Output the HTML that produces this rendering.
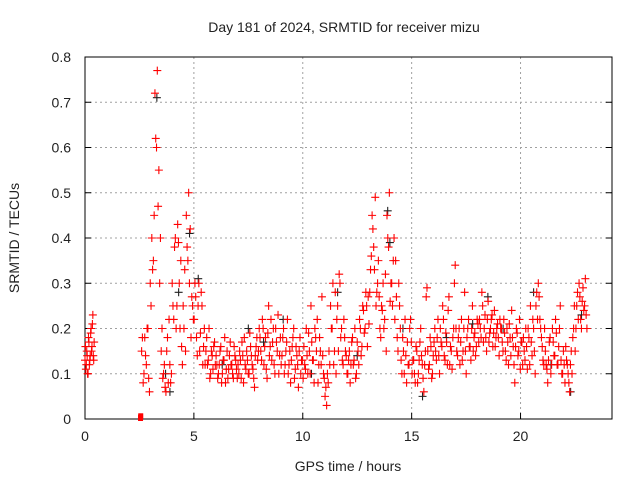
<!DOCTYPE html>
<html><head><meta charset="utf-8"><style>
body{margin:0;background:#fff;width:640px;height:480px;overflow:hidden}
svg text{font-family:"Liberation Sans",sans-serif;font-size:14px;fill:#222}
</style></head><body>
<svg id="c" width="640" height="480">
<text x="344" y="32" text-anchor="middle">Day 181 of 2024, SRMTID for receiver mizu</text>
<text x="348" y="471" text-anchor="middle">GPS time / hours</text>
<text transform="translate(19,238) rotate(-90)" text-anchor="middle">SRMTID / TECUs</text>
<g id="grid"></g><g id="axes"></g><g id="black"></g><g id="red"></g>
</svg>
<script>
const xTicks=[0,5,10,15,20];
const yTicks=[0,0.1,0.2,0.3,0.4,0.5,0.6,0.7,0.8];
const yTickLabels=["0","0.1","0.2","0.3","0.4","0.5","0.6","0.7","0.8"];
const segStarts=[0.0,2.6,0.02,2.636];
const segSteps=[0.04,0.072,0.04,0.072];
const seg0=[0.13,0.11,0.15,0.1,0.18,0.12,0.14,0.2,0.16,0.23,0.13];
const seg1=[0.15,0.08,0.18,0.12,0.2,0.06,
0.25,0.33,0.45,0.62,0.77,0.55,0.4,
0.2,0.1,0.07,0.15,0.08,0.12,0.1,
0.25,0.38,0.2,0.43,0.3,0.35,0.12,
0.2,0.15,0.38,0.5,0.42,0.27,0.22,
0.3,0.18,0.25,0.15,0.28,0.12,0.2,
0.15,0.12,0.2,0.1,0.14,0.16,0.12,
0.12,0.1,0.15,0.08,0.13,0.18,0.11,0.09,0.14,0.12,0.1,0.16,0.13,0.09,
0.1,0.13,0.17,0.08,0.12,0.15,0.1,0.19,0.14,0.11,0.07,0.16,0.13,0.2,
0.15,0.22,0.12,0.18,0.09,0.25,0.16,0.13,0.2,0.1,0.17,0.23,0.14,0.12,
0.18,0.1,0.15,0.22,0.12,0.08,0.16,0.2,0.11,0.14,0.07,0.18,0.13,0.09,
0.12,0.2,0.1,0.15,0.25,0.13,0.08,0.18,0.22,0.12,0.15,0.27,0.1,0.05,
0.03,0.08,0.12,0.2,0.3,0.15,0.1,0.25,0.32,0.18,0.13,0.22,0.15,0.1,
0.13,0.08,0.17,0.12,0.2,0.1,0.15,0.22,0.14,0.25,0.19,0.28,0.16,0.21,
0.33,0.45,0.38,0.49,0.28,0.35,0.2,0.25,0.3,0.22,0.15,0.4,0.5,0.3,
0.25,0.4,0.35,0.18,0.3,0.2,0.1,0.15,0.22,0.08,0.12,0.2,0.17,0.13,
0.1,0.16,0.08,0.13,0.2,0.12,0.06,0.15,0.29,0.11,0.18,0.09,0.14,0.2,
0.13,0.22,0.1,0.17,0.25,0.14,0.19,0.12,0.27,0.16,0.11,0.2,0.34,0.15,
0.18,0.12,0.22,0.15,0.28,0.1,0.2,0.16,0.13,0.25,0.18,0.14,0.22,0.17,
0.2,0.28,0.17,0.23,0.15,0.26,0.19,0.22,0.16,0.24,0.18,0.21,0.14,0.2,
0.17,0.22,0.15,0.2,0.12,0.18,0.24,0.16,0.08,0.2,0.14,0.22,0.17,0.12,
0.15,0.2,0.11,0.18,0.25,0.14,0.2,0.1,0.28,0.3,0.22,0.18,0.13,0.2,
0.12,0.08,0.17,0.1,0.2,0.14,0.22,0.12,0.16,0.25,0.1,0.15,0.08,0.13,
0.1,0.06,0.15,0.18,0.25,0.2,0.28,0.3,0.22,0.26,0.24,0.31,0.2];
const seg2=[0.16,0.12,0.14,0.1,0.17,0.13,0.19,0.15,0.21,0.14,0.17];
const seg3=[0.18,0.1,0.14,0.2,0.09,
0.3,0.4,0.35,0.72,0.6,0.47,0.3,
0.15,0.09,0.12,0.06,0.18,0.22,0.08,
0.3,0.22,0.4,0.25,0.39,0.2,0.16,
0.25,0.33,0.45,0.35,0.3,0.18,0.25,
0.22,0.27,0.14,0.3,0.19,0.25,0.16,
0.12,0.18,0.13,0.09,0.15,0.11,0.17,
0.14,0.09,0.12,0.16,0.1,0.13,0.08,0.15,0.11,0.17,0.12,0.09,0.14,0.11,
0.12,0.15,0.09,0.14,0.18,0.11,0.13,0.1,0.16,0.12,0.09,0.14,0.18,0.15,
0.18,0.13,0.2,0.16,0.11,0.19,0.14,0.22,0.17,0.12,0.2,0.15,0.1,0.18,
0.14,0.2,0.12,0.17,0.1,0.15,0.13,0.18,0.09,0.16,0.12,0.15,0.1,0.13,
0.16,0.11,0.14,0.19,0.1,0.17,0.13,0.2,0.15,0.08,0.18,0.12,0.14,0.09,
0.07,0.1,0.15,0.25,0.2,0.12,0.28,0.22,0.15,0.3,0.2,0.12,0.18,0.14,
0.1,0.15,0.12,0.18,0.13,0.09,0.17,0.12,0.2,0.16,0.24,0.2,0.25,0.27,
0.28,0.36,0.42,0.33,0.25,0.3,0.27,0.18,0.24,0.2,0.32,0.45,0.38,0.26,
0.3,0.35,0.22,0.27,0.15,0.25,0.13,0.18,0.1,0.14,0.17,0.12,0.22,0.1,
0.13,0.08,0.15,0.1,0.17,0.14,0.09,0.12,0.27,0.15,0.12,0.16,0.1,0.17,
0.15,0.18,0.14,0.2,0.16,0.22,0.13,0.17,0.24,0.12,0.15,0.18,0.3,0.2,
0.14,0.2,0.17,0.13,0.2,0.15,0.18,0.22,0.16,0.2,0.15,0.19,0.16,0.21,
0.22,0.18,0.25,0.2,0.18,0.22,0.17,0.2,0.23,0.19,0.16,0.2,0.18,0.22,
0.2,0.15,0.19,0.13,0.17,0.21,0.14,0.18,0.12,0.16,0.19,0.15,0.11,0.17,
0.18,0.13,0.16,0.2,0.12,0.17,0.22,0.15,0.25,0.22,0.27,0.2,0.16,0.12,
0.15,0.11,0.13,0.18,0.12,0.17,0.14,0.19,0.12,0.2,0.13,0.1,0.12,0.16,
0.12,0.08,0.12,0.1,0.2,0.15,0.25,0.22,0.27,0.2,0.29,0.25,0.23];
const zeroTimes=[2.55,2.55,2.56];
const zeroVals=[0,0.003,0.006];
const blackTimes=[3.3,3.9,4.8,5.2,7.5,9.1,11.6,13.9,14.0,15.5,17.8,18.5,20.6,22.3,22.8,6.3,8.2,10.4,12.5,16.6,19.2,21.4,3.7,4.3,14.6];
const blackVals=[0.71,0.06,0.41,0.31,0.2,0.22,0.28,0.46,0.39,0.05,0.21,0.27,0.28,0.06,0.23,0.12,0.17,0.1,0.14,0.18,0.2,0.12,0.1,0.28,0.2];
const X0=85,X1=612,Y0=419,Y1=57,TMAX=24.2,VMAX=0.8;
const xs=t=>X0+t/TMAX*(X1-X0);
const ys=v=>Y0-v/VMAX*(Y0-Y1);
const NS="http://www.w3.org/2000/svg";
function mk(tag,parent,attrs){const e=document.createElementNS(NS,tag);for(const k in attrs)e.setAttribute(k,attrs[k]);parent.appendChild(e);return e;}
const grid=document.getElementById('grid'),axes=document.getElementById('axes');
xTicks.forEach((t,i)=>{const x=xs(t);
 if(t>0){const g=mk('line',grid,{x1:x,x2:x,y1:Y1,y2:Y0,stroke:'#a0a0a0','stroke-dasharray':'2,3'});
 
 }
 mk('line',axes,{x1:x,x2:x,y1:Y0,y2:Y0-6,stroke:'#000'});
 const tx=mk('text',axes,{x:x,y:Y0+22,'text-anchor':'middle'});tx.textContent=String(t);
 
 });
yTicks.forEach((v,i)=>{const y=ys(v);
 if(v>0){const g=mk('line',grid,{x1:X0,x2:X1,y1:y,y2:y,stroke:'#a0a0a0','stroke-dasharray':'2,3'});
 
 }
 mk('line',axes,{x1:X0,x2:X0+6,y1:y,y2:y,stroke:'#000'});
 mk('line',axes,{x1:X1,x2:X1-6,y1:y,y2:y,stroke:'#000'});
 const tx=mk('text',axes,{x:X0-14,y:y+5,'text-anchor':'end'});tx.textContent=yTickLabels[i];
 
 });
const fr=mk('rect',axes,{x:X0,y:Y1,width:X1-X0,height:Y0-Y1,fill:'none',stroke:'#000'});


function plus(parent,t,v,col){const x=xs(t),y=ys(v);
 const p=mk('path',parent,{d:`M${x-4},${y}h8M${x},${y-4}v8`,stroke:col,'stroke-width':1.1,fill:'none'});
 
 }
const bl=document.getElementById('black'),rd=document.getElementById('red');
blackTimes.forEach((t,i)=>plus(bl,t,blackVals[i],'#222'));
[seg0,seg1,seg2,seg3].forEach((arr,s)=>arr.forEach((v,i)=>plus(rd,segStarts[s]+i*segSteps[s],v,'#f00')));
zeroTimes.forEach((t,i)=>{const r=mk('rect',rd,{x:xs(t)-2.5,y:ys(zeroVals[i])-3,width:5,height:5,fill:'#f00'});
 
 });
</script>
</body></html>
